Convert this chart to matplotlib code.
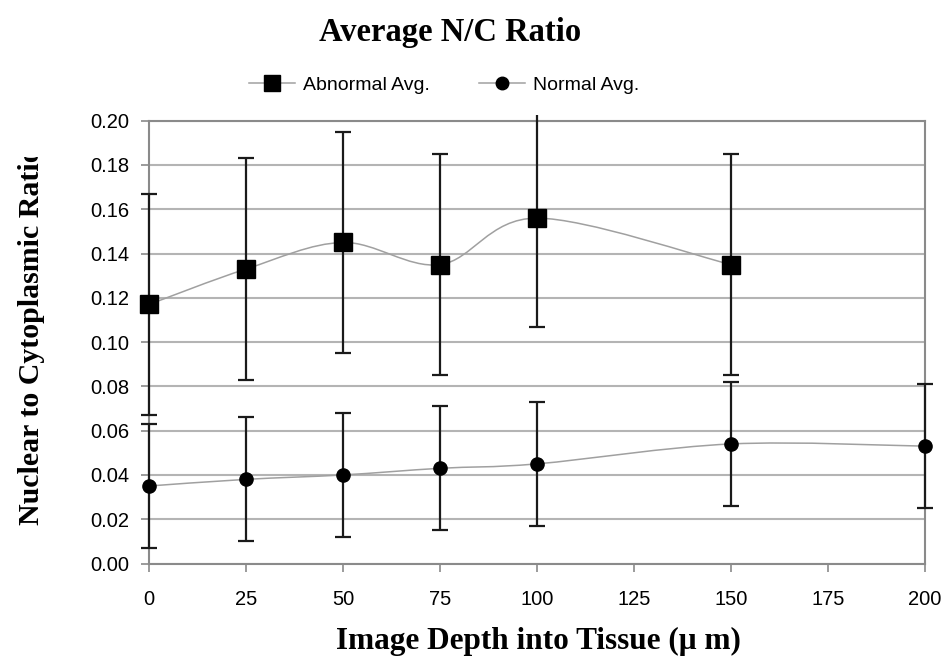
import numpy as np
import matplotlib
matplotlib.use("Agg")
import matplotlib.pyplot as plt
from matplotlib.path import Path
from matplotlib.patches import PathPatch, Rectangle
from matplotlib.lines import Line2D
from matplotlib.transforms import Bbox, TransformedBbox

# ---- data -------------------------------------------------------------
depth_abnormal = [0, 25, 50, 75, 100, 150]
abnormal_avg = [0.117, 0.133, 0.145, 0.135, 0.156, 0.135]
abnormal_err = [0.050, 0.050, 0.050, 0.050, 0.049, 0.050]

depth_normal = [0, 25, 50, 75, 100, 150, 200]
normal_avg = [0.035, 0.038, 0.040, 0.043, 0.045, 0.054, 0.053]
normal_err = [0.028, 0.028, 0.028, 0.028, 0.028, 0.028, 0.028]

x_ticks = [0, 25, 50, 75, 100, 125, 150, 175, 200]
y_ticks = [0.00, 0.02, 0.04, 0.06, 0.08, 0.10, 0.12, 0.14, 0.16, 0.18, 0.20]

series_labels = ["Abnormal Avg.", "Normal Avg."]

# ---- style ------------------------------------------------------------
SANS = ["Liberation Sans", "DejaVu Sans"]
SERIF = ["Liberation Serif", "DejaVu Serif"]
LINE_GRAY = "#a0a0a0"
GRID_GRAY = "#b4b4b4"
FRAME_GRAY = "#8a8a8a"
BAR_COLOR = "#1a1a1a"


def smooth_path(xs, ys):
    """Smoothed (Catmull-Rom style) Bezier path through the given points."""
    pts = np.column_stack([xs, ys]).astype(float)
    verts = [pts[0]]
    codes = [Path.MOVETO]
    n = len(pts)
    for i in range(n - 1):
        p0 = pts[i - 1] if i > 0 else pts[i]
        p1 = pts[i]
        p2 = pts[i + 1]
        p3 = pts[i + 2] if i + 2 < n else pts[i + 1]
        c1 = p1 + (p2 - p0) / 6.0
        c2 = p2 - (p3 - p1) / 6.0
        verts += [c1, c2, p2]
        codes += [Path.CURVE4] * 3
    return Path(np.array(verts), codes)


fig = plt.figure(figsize=(9.49, 6.62), dpi=100)
ax = fig.add_axes([149 / 949, 1 - 563.5 / 662, (925 - 149) / 949, (563.5 - 120.7) / 662])

ax.set_xlim(0, 200)
ax.set_ylim(0, 0.20)

# horizontal gridlines
ax.set_yticks(y_ticks)
ax.set_xticks(x_ticks)
ax.yaxis.grid(True, color=GRID_GRAY, lw=1.5)
ax.xaxis.grid(False)
ax.set_axisbelow(True)

for side in ["top", "right", "left", "bottom"]:
    ax.spines[side].set_color(FRAME_GRAY)
    ax.spines[side].set_linewidth(1.5)

ax.tick_params(axis="both", direction="out", color=FRAME_GRAY, width=1.2,
               length=6, labelsize=14.5)
ax.tick_params(axis="y", pad=8)
ax.tick_params(axis="x", pad=13)
ax.set_yticklabels([f"{v:.2f}" for v in y_ticks], fontfamily=SANS)
ax.set_xticklabels([str(v) for v in x_ticks], fontfamily=SANS)

# error bars may reach just past the plot frame
clip_box = TransformedBbox(Bbox([[-0.03, -0.03], [1.03, 1.012]]), ax.transAxes)

# smoothed connecting lines
for xs, ys in [(depth_abnormal, abnormal_avg), (depth_normal, normal_avg)]:
    patch = PathPatch(smooth_path(xs, ys), facecolor="none",
                      edgecolor=LINE_GRAY, lw=1.1, transform=ax.transData, zorder=2)
    ax.add_patch(patch)

# error bars
for xs, ys, es in [(depth_abnormal, abnormal_avg, abnormal_err),
                   (depth_normal, normal_avg, normal_err)]:
    eb = ax.errorbar(xs, ys, yerr=es, fmt="none", ecolor=BAR_COLOR,
                     elinewidth=1.6, capsize=6, capthick=1.6, zorder=3)
    for art in list(eb.lines[1]) + list(eb.lines[2]):
        art.set_clip_box(clip_box)

# markers
ax.plot(depth_abnormal, abnormal_avg, ls="none", marker="s", ms=12.5,
        mfc="black", mec="black", zorder=4, clip_on=False)
ax.plot(depth_normal, normal_avg, ls="none", marker="o", ms=9.5,
        mfc="black", mec="black", zorder=4, clip_on=False)

# legend
handles = [
    Line2D([], [], color=LINE_GRAY, lw=1.1, marker="s", ms=12, mfc="black", mec="black"),
    Line2D([], [], color=LINE_GRAY, lw=1.1, marker="o", ms=9, mfc="black", mec="black"),
]
fig.legend(handles, series_labels, loc="center", bbox_to_anchor=(444 / 949, 1 - 85 / 662),
           ncol=2, frameon=False, prop={"family": SANS, "size": 14},
           handlelength=2.4, handletextpad=0.4, columnspacing=2.5)

# titles
fig.text(450 / 949, 1 - 32 / 662, "Average N/C Ratio", ha="center", va="center",
         fontfamily=SERIF, fontweight="bold", fontsize=23.5)
fig.text(538 / 949, 1 - 641 / 662, "Image Depth into Tissue (\u03bc m)", ha="center",
         va="center", fontfamily=SERIF, fontweight="bold", fontsize=22.5)

fig.text(32 / 949, 1 - 336 / 662, "Nuclear to Cytoplasmic Ratio", rotation=90,
         ha="center", va="center", fontfamily=SERIF, fontweight="bold",
         fontsize=21.5, zorder=3)
# the y label runs past the top of its box and is cut off there
fig.patches.append(Rectangle((0, 1 - 157 / 662), 70 / 949, 60 / 662,
                             transform=fig.transFigure, facecolor="white",
                             edgecolor="none", zorder=10))

fig.savefig("out.png", dpi=100)
